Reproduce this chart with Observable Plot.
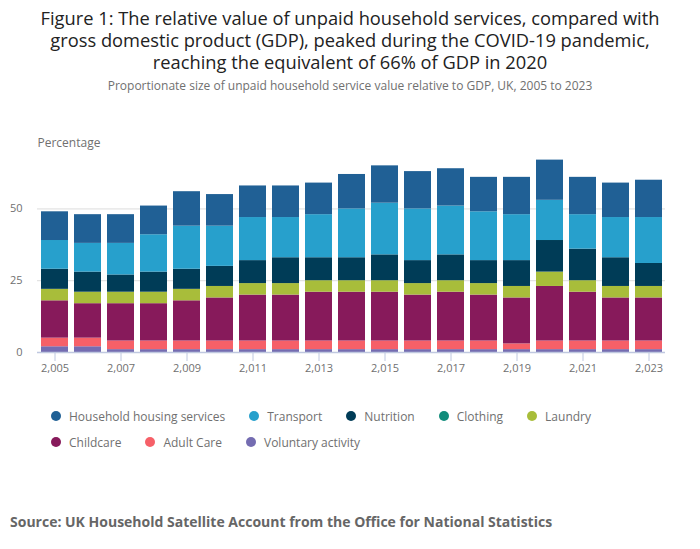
<!DOCTYPE html>
<html>
<head>
<meta charset="utf-8">
<script src="https://cdn.jsdelivr.net/npm/d3@7"></script>
<script src="https://cdn.jsdelivr.net/npm/@observablehq/plot@0.6"></script>
<style>
  body { margin: 0; width: 700px; font-family: "Open Sans", sans-serif; background: #fff; }
  #title { text-align: center; font-size: 18.3px; line-height: 22px; color: #222; padding-top: 7px; margin: 0 20px; }
  #subtitle { text-align: center; font-size: 12px; line-height: 16px; color: #707070; margin-top: 5px; }
  #chart svg { display: block; }
  #legend { margin-top: 22px; padding-left: 51px; width: 600px; }
  .row { display: flex; height: 20px; align-items: center; margin-bottom: 6px; }
  .item { display: flex; align-items: center; margin-right: 24px; font-size: 12px; color: #707070; }
  .dot { width: 10px; height: 10px; border-radius: 50%; margin-right: 8px; }
  #source { margin-top: 60px; padding-left: 10px; font-size: 14px; font-weight: bold; color: #666; line-height: 20px; }
</style>
</head>
<body>
<div id="title">Figure 1: The relative value of unpaid household services, compared with gross domestic product (GDP), peaked during the COVID-19 pandemic, reaching the equivalent of 66% of GDP in 2020</div>
<div id="subtitle">Proportionate size of unpaid household service value relative to GDP, UK, 2005 to 2023</div>
<div id="chart"></div>
<div id="legend"></div>
<div id="source">Source: UK Household Satellite Account from the Office for National Statistics</div>
<script>
const years = [2005,2006,2007,2008,2009,2010,2011,2012,2013,2014,2015,2016,2017,2018,2019,2020,2021,2022,2023];
const seriesNames = ["Household housing services","Transport","Nutrition","Clothing","Laundry","Childcare","Adult Care","Voluntary activity"];
const seriesColors = ["#206095","#27a0cc","#003c57","#118c7b","#a8bd3a","#871a5b","#f66068","#746cb1"];

const housing   = [10,10,10,10,12,11,11,11,11,12,13,13,13,12,13,14,13,12,13];
const transport = [10,10,11,13,15,14,15,14,15,17,18,18,17,17,16,14,12,14,16];
const nutrition = [7,7,6,7,7,7,8,9,8,8,9,8,9,8,9,11,11,10,8];
const clothing  = [0,0,0,0,0,0,0,0,0,0,0,0,0,0,0,0,0,0,0];
const laundry   = [4,4,4,4,4,4,4,4,4,4,4,4,4,4,4,5,4,4,4];
const childcare = [13,12,13,13,14,15,16,16,17,17,17,16,17,16,16,19,17,15,15];
const adultCare = [3,3,3,3,3,3,3,3,3,3,3,3,3,3,2,3,3,3,3];
const voluntary = [2,2,1,1,1,1,1,1,1,1,1,1,1,1,1,1,1,1,1];

const xTicks = [2005,2007,2009,2011,2013,2015,2017,2019,2021,2023];
const yTicks = [0,25,50];

// stacking order: bottom first
const stackSeries = [
  ["Voluntary activity", voluntary],
  ["Adult Care", adultCare],
  ["Childcare", childcare],
  ["Laundry", laundry],
  ["Clothing", clothing],
  ["Nutrition", nutrition],
  ["Transport", transport],
  ["Household housing services", housing]
];
const data = [];
years.forEach((yr, i) => {
  stackSeries.forEach(([name, vals]) => data.push({year: yr, series: name, value: vals[i]}));
});

const chart = Plot.plot({
  width: 700,
  height: 290,
  marginLeft: 37,
  marginRight: 35,
  marginTop: 57,
  marginBottom: 32,
  style: {fontFamily: "Open Sans, sans-serif", fontSize: "11px", color: "#707070", background: "#fff"},
  x: {type: "band", domain: years, paddingInner: 0.19, paddingOuter: 0.09, label: null},
  y: {domain: [0, 70], label: null},
  color: {domain: seriesNames, range: seriesColors},
  marks: [
    Plot.gridY(yTicks.filter(d => d > 0), {stroke: "#dcdcdc", strokeOpacity: 1, strokeWidth: 1}),
    Plot.barY(data, {x: "year", y: "value", z: "series", fill: "series", order: null}),
    Plot.ruleY([0], {stroke: "#bfc8e0", strokeWidth: 1.5}),
    Plot.axisY({ticks: yTicks, tickSize: 0, tickPadding: 15, fill: "#707070", fontSize: 11, label: null}),
    Plot.axisX({ticks: xTicks, tickSize: 9, tickPadding: 3, stroke: "#bfc8e0", fill: "#707070", fontSize: 11, label: null}),
    Plot.text(["Percentage"], {frameAnchor: "top-left", dy: -8, textAnchor: "start", lineAnchor: "middle", fill: "#707070", fontSize: 12})
  ]
});
document.getElementById("chart").appendChild(chart);

// legend
const rows = [[0,1,2,3,4],[5,6,7]];
const legend = document.getElementById("legend");
rows.forEach(r => {
  const row = document.createElement("div");
  row.className = "row";
  r.forEach(i => {
    const item = document.createElement("div");
    item.className = "item";
    const dot = document.createElement("span");
    dot.className = "dot";
    dot.style.background = seriesColors[i];
    const label = document.createElement("span");
    label.textContent = seriesNames[i];
    item.appendChild(dot);
    item.appendChild(label);
    row.appendChild(item);
  });
  legend.appendChild(row);
});
</script>
</body>
</html>
